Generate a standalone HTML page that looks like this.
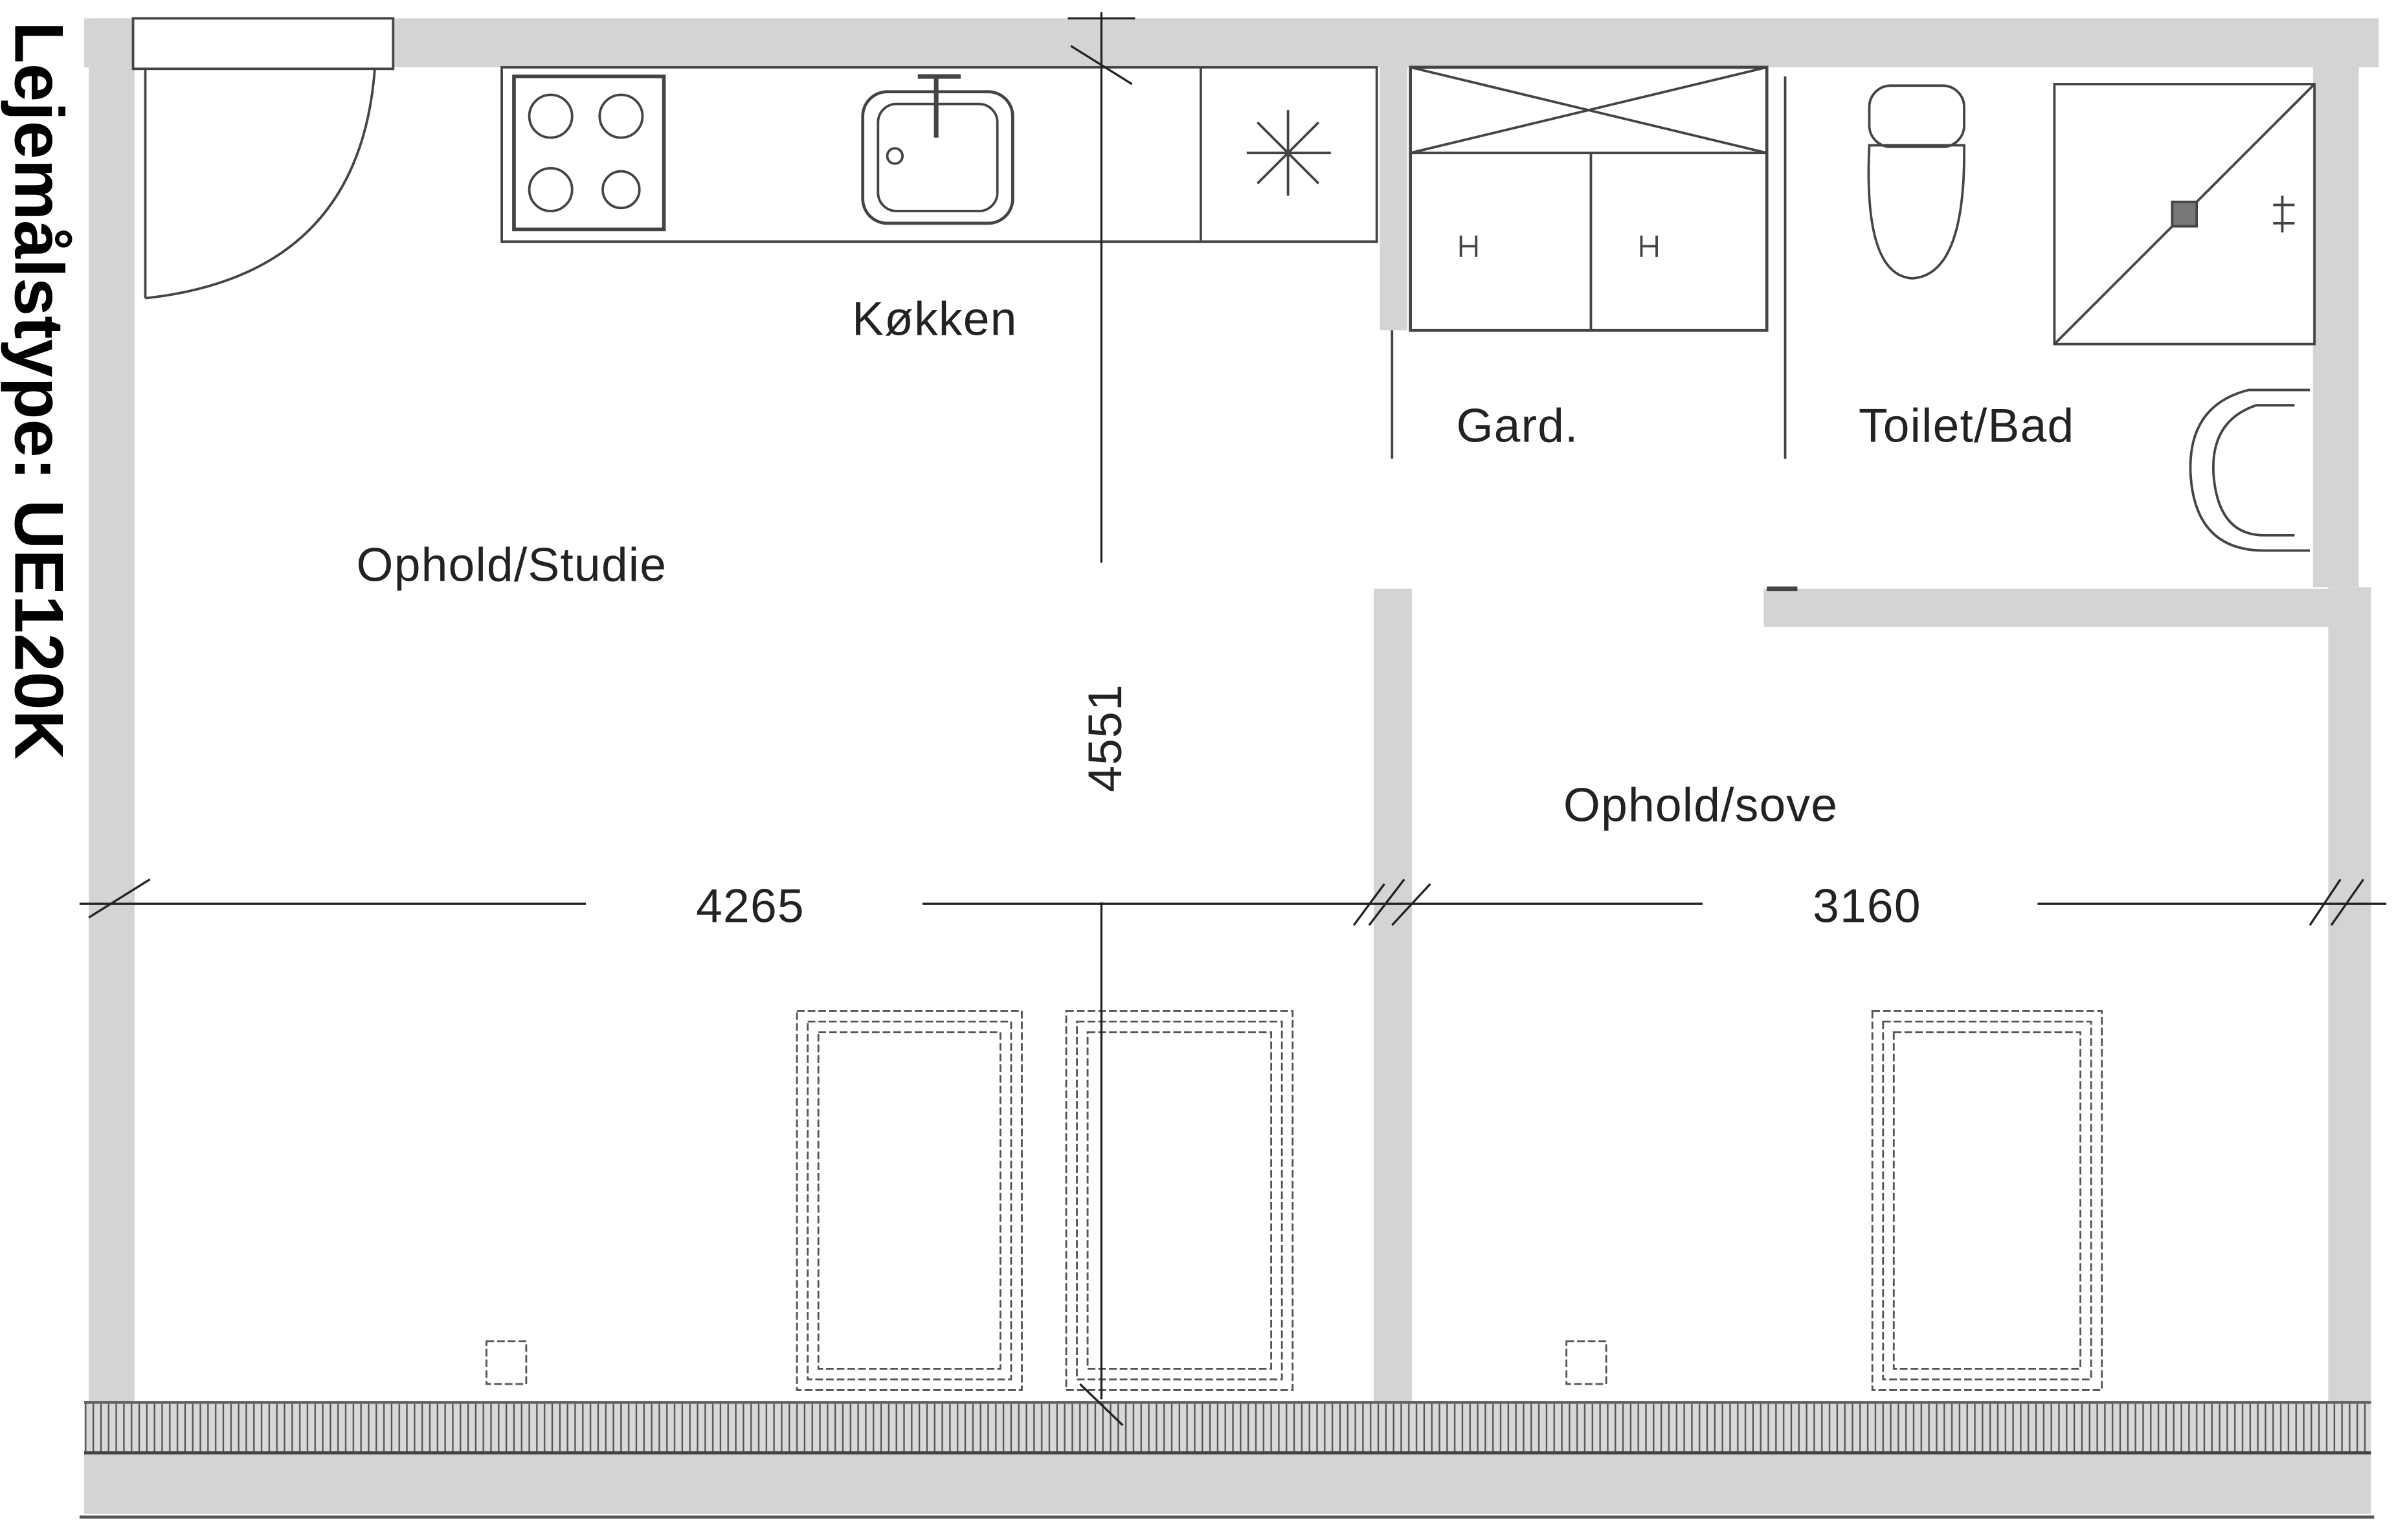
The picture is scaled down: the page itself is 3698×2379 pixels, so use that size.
<!DOCTYPE html>
<html><head><meta charset="utf-8"><style>
html,body{margin:0;padding:0;background:#fff;}
svg{display:block}
text{font-family:"Liberation Sans",sans-serif;fill:#222}
</style></head><body>
<svg width="3698" height="2379" viewBox="0 0 1565 1007" preserveAspectRatio="none" xmlns="http://www.w3.org/2000/svg">
<defs>
<pattern id="bh" width="5" height="30" patternUnits="userSpaceOnUse"><rect width="5" height="30" fill="#d8d8d8"/><line x1="1" y1="0" x2="1" y2="30" stroke="#555" stroke-width="1"/></pattern>
</defs>
<g fill="#d4d4d4">
<rect x="55" y="12" width="1500" height="32"/>
<rect x="58" y="12" width="30" height="905"/>
<rect x="1512" y="44" width="30" height="340"/>
<rect x="1522" y="384" width="28" height="535"/>
<rect x="1153" y="385" width="370" height="25"/>
<rect x="898" y="385" width="25" height="532"/>
<rect x="902" y="44" width="18" height="172"/>
<rect x="55" y="950" width="1495" height="40"/>
</g>
<rect x="55" y="917" width="1495" height="33" fill="url(#bh)"/>
<line x1="55" y1="917" x2="1550" y2="917" stroke="#666" stroke-width="2"/>
<line x1="55" y1="950" x2="1550" y2="950" stroke="#444" stroke-width="2"/>
<line x1="52" y1="992" x2="1552" y2="992" stroke="#555" stroke-width="2"/>
<g fill="none" stroke="#444" stroke-width="1.6">
<rect x="87" y="12" width="170" height="33" fill="#fff"/>
<line x1="95" y1="45" x2="95" y2="195"/>
<path d="M95 195 Q235 180 245 45"/>
<rect x="328" y="44" width="572" height="114"/>
<rect x="336" y="50" width="98" height="100" stroke-width="2.4"/>
<circle cx="360" cy="76" r="14"/><circle cx="406" cy="76" r="14"/>
<circle cx="360" cy="124" r="14"/><circle cx="406" cy="124" r="12"/>
<rect x="564" y="60" width="98" height="86" rx="16" stroke-width="2"/>
<rect x="574" y="68" width="78" height="70" rx="12"/>
<circle cx="585" cy="102" r="5"/>
<path d="M600 50 H628 M612 50 V90" stroke-width="3"/>
<line x1="785" y1="44" x2="785" y2="158"/>
<path d="M815 100 H870 M842 72 V128 M822 80 L862 120 M862 80 L822 120"/>
<rect x="922" y="44" width="233" height="172" stroke-width="2"/>
<line x1="922" y1="100" x2="1155" y2="100"/>
<path d="M922 44 L1155 100 M922 100 L1155 44"/>
<line x1="1040" y1="100" x2="1040" y2="216"/>
<path d="M955 154 V168 M965 154 V168 M955 161 H965 M1073 154 V168 M1083 154 V168 M1073 161 H1083"/>
<line x1="910" y1="216" x2="910" y2="300"/>
<line x1="1167" y1="50" x2="1167" y2="300"/>
<path d="M1222 95 Q1218 180 1250 182 Q1285 180 1284 95 Z"/>
<rect x="1222" y="56" width="62" height="40" rx="14"/>
<rect x="1343" y="55" width="170" height="170"/>
<line x1="1343" y1="225" x2="1513" y2="55"/>
<rect x="1420" y="132" width="16" height="16" fill="#777"/>
<path d="M1492 128 V152 M1486 134 H1500 M1486 146 H1500"/>
<path d="M1510 255 H1470 Q1430 265 1432 310 Q1435 360 1480 360 H1510"/>
<path d="M1500 265 H1475 Q1445 275 1447 310 Q1450 350 1480 350 H1500"/>
<line x1="1155" y1="385" x2="1175" y2="385" stroke-width="3"/>
</g>
<g fill="none" stroke="#555" stroke-width="1.2" stroke-dasharray="5 2">
<rect x="521" y="661" width="147" height="248"/><rect x="528" y="668" width="133" height="234"/><rect x="535" y="675" width="119" height="220"/>
<rect x="697" y="661" width="148" height="248"/><rect x="704" y="668" width="134" height="234"/><rect x="711" y="675" width="120" height="220"/>
<rect x="1224" y="661" width="150" height="248"/><rect x="1231" y="668" width="136" height="234"/><rect x="1238" y="675" width="122" height="220"/>
<rect x="318" y="877" width="26" height="28"/><rect x="1024" y="877" width="26" height="28"/>
</g>
<g stroke="#222" stroke-width="1.4" fill="none">
<line x1="720" y1="8" x2="720" y2="368"/>
<line x1="720" y1="590" x2="720" y2="915"/>
<line x1="700" y1="30" x2="740" y2="55"/>
<line x1="706" y1="905" x2="734" y2="932"/>
<line x1="52" y1="591" x2="383" y2="591"/>
<line x1="603" y1="591" x2="1113" y2="591"/>
<line x1="1332" y1="591" x2="1560" y2="591"/>
<path d="M58 600 L98 575 M885 605 L905 578 M895 605 L918 575 M910 605 L935 578 M1510 605 L1530 575 M1524 605 L1545 575"/>
<line x1="698" y1="12" x2="742" y2="12"/>
</g>
<g font-size="31" letter-spacing="0.5">
<text x="557" y="219">Køkken</text>
<text x="952" y="289">Gard.</text>
<text x="1215" y="289">Toilet/Bad</text>
<text x="233" y="380">Ophold/Studie</text>
<text x="1022" y="537">Ophold/sove</text>
<text x="455" y="603">4265</text>
<text x="1185" y="603">3160</text>
<text transform="translate(733,518) rotate(-90)">4551</text>
</g>
<text transform="translate(10,14) rotate(90)" font-size="45" font-weight="bold" style="fill:#000">Lejemålstype: UE120K</text>
</svg>
</body></html>
